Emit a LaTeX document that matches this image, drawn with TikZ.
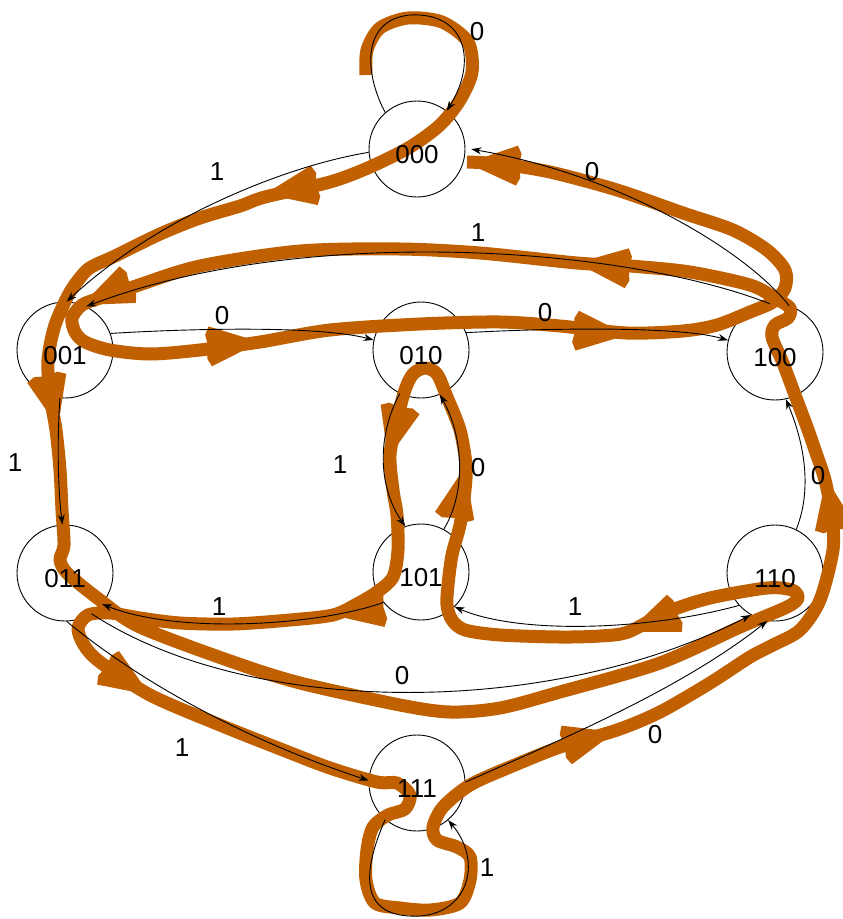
\documentclass[tikz,border=0pt]{standalone}
\usepackage{fontspec}
\setmainfont{Liberation Sans}
\usetikzlibrary{arrows.meta}
\definecolor{orng}{RGB}{192,96,0}
\newcommand{\tourarrow}[3]{\fill[orng,shift={(#1,-#2)},rotate=#3] (0,0) -- (-50,20) -- (-54,12) -- (-52,0) -- (-54,-12) -- (-50,-20) -- cycle;}
\begin{document}
\begin{tikzpicture}[x=1pt,y=1pt,
  state/.style={circle,draw,line width=0.9pt,minimum size=96pt,inner sep=0pt},
  nlabel/.style={font=\fontsize{26}{30}\selectfont,inner sep=0pt,yshift=-6pt},
  elabel/.style={font=\fontsize{26}{30}\selectfont,inner sep=0pt},
  edge/.style={line width=0.9pt,-{Stealth[length=10pt,width=7pt]}},
  tour/.style={line width=13pt,draw=orng,line join=round},
]
\useasboundingbox (0,0) rectangle (843,-919);

% states
\node[state] (n000) at (417,-149) {};
\node[state] (n001) at (65,-350) {};
\node[state] (n010) at (421,-350) {};
\node[state] (n100) at (775,-352) {};
\node[state] (n011) at (65,-573) {};
\node[state] (n101) at (421,-572) {};
\node[state] (n110) at (775,-573) {};
\node[state] (n111) at (417,-783) {};

% Eulerian tour (thick)
\draw[tour] plot[smooth,tension=0.5] coordinates {
 (366,-75) (367,-50) (380,-28) (408,-18) (442,-22) (468,-42) (472,-72)
 (460,-100) (440,-125) (410,-147) (370,-167) (330,-182) (265,-197) (240,-206)
 (200,-218) (160,-234) (115,-256) (95,-265) (85,-272) (70,-292) (55,-325)
 (48,-360) (50,-395) (56,-430) (60,-470) (62,-510) (64,-545) (60,-560)
 (68,-574) (100,-600) (140,-627) (233,-662) (300,-683) (400,-705) (450,-712)
 (500,-708) (560,-692) (660,-663) (740,-627) (787,-607) (798,-598) (792,-590)
 (767,-588) (710,-598) (667,-612) (628,-632) (600,-636) (560,-637) (500,-635)
 (465,-630) (452,-620) (447,-605) (448,-585) (452,-555) (460,-525) (465,-490)
 (466,-465) (460,-430) (447,-397) (437,-374) (425,-368) (413,-374) (405,-390)
 (397,-420) (390,-455) (393,-490) (397,-515) (398,-550) (393,-577) (377,-592)
 (357,-604) (333,-615) (290,-620) (233,-624) (180,-623) (140,-618) (110,-613)
 (88,-615) (78,-628) (84,-645) (100,-662) (150,-695) (220,-725) (283,-750)
 (330,-768) (377,-782) (397,-783) (410,-795) (405,-809) (388,-815) (373,-827)
 (367,-850) (366,-880) (375,-903) (400,-908) (430,-910) (460,-903) (470,-880)
 (470,-857) (457,-847) (437,-840) (433,-827) (443,-807) (470,-785) (510,-767)
 (560,-747) (617,-730) (660,-712) (710,-683) (750,-657) (773,-645) (800,-630)
 (820,-600) (833,-550) (832,-517) (825,-480) (815,-450) (807,-427) (795,-395)
 (783,-363) (772,-337) (775,-325) (788,-318) (790,-308) (775,-298) (750,-285)
 (690,-272) (630,-266) (577,-263) (480,-253) (400,-249) (300,-251) (200,-266)
 (133,-287) (100,-298) (82,-305) (72,-318) (75,-332) (85,-342) (110,-350)
 (150,-354) (200,-350) (260,-342) (330,-330) (420,-324) (500,-322) (560,-326)
 (627,-333) (683,-331) (717,-325) (750,-312) (773,-302) (785,-288) (785,-270)
 (767,-250) (733,-230) (683,-213) (617,-190) (550,-172) (500,-164) (467,-162)
};
\tourarrow{265}{194}{190}
\tourarrow{82}{305}{204}
\tourarrow{58}{427}{283}
\tourarrow{260}{342}{5}
\tourarrow{627}{335}{-5}
\tourarrow{577}{263}{174}
\tourarrow{467}{163}{177}
\tourarrow{332}{615}{189}
\tourarrow{150}{695}{-33}
\tourarrow{615}{732}{15}
\tourarrow{628}{632}{202}
\tourarrow{826}{478}{100}
\tourarrow{465}{467}{78}
\tourarrow{388}{458}{256}

% transitions
\draw[edge] (n000.131) .. controls (365,-75) and (360,-20) .. (410,-15)
            .. controls (465,-12) and (478,-60) .. (n000.52);
\draw[edge] (n000.184) .. controls (290,-165) and (160,-215) .. (n001.88);
\draw[edge,shorten >=6pt] (n100.73) .. controls (745,-250) and (620,-175) .. (n000.1);
\draw[edge] (n100.96) .. controls (620,-245) and (300,-225) .. (n001.64);
\draw[edge] (n001.20) .. controls (200,-328) and (320,-326) .. (n010.168);
\draw[edge] (n010.21) .. controls (550,-328) and (680,-326) .. (n100.166);
\draw[edge] (n001.264) .. controls (57,-440) and (58,-490) .. (n011.93);
\draw[edge] (n010.244) .. controls (375,-440) and (380,-490) .. (n101.109);
\draw[edge] (n101.62) .. controls (465,-495) and (465,-440) .. (n010.293);
\draw[edge] (n110.64) .. controls (812,-490) and (805,-445) .. (n100.283);
\draw[edge] (n101.219) .. controls (320,-625) and (180,-635) .. (n011.320);
\draw[edge] (n110.222) .. controls (650,-630) and (520,-635) .. (n101.314);
\draw[edge] (n011.303) .. controls (250,-718) and (550,-718) .. (n110.240);
\draw[edge] (n011.272) .. controls (150,-690) and (260,-745) .. (n111.177);
\draw[edge] (n111.1) .. controls (560,-740) and (680,-690) .. (n110.261);
\draw[edge] (n111.229) .. controls (350,-900) and (380,-918) .. (420,-916)
            .. controls (470,-912) and (482,-860) .. (n111.310);

% state names
\node[nlabel] (t000) at (n000) {000};
\node[nlabel] (t001) at (n001) {001};
\node[nlabel] (t010) at (n010) {010};
\node[nlabel] (t100) at (n100) {100};
\node[nlabel] (t011) at (n011) {011};
\node[nlabel] (t101) at (n101) {101};
\node[nlabel] (t110) at (n110) {110};
\node[nlabel] (t111) at (n111) {111};

% edge labels
\node[elabel] (l1) at (477,-32) {0};
\node[elabel] (l2) at (217,-172) {1};
\node[elabel] (l3) at (592,-172) {0};
\node[elabel] (l4) at (478,-233) {1};
\node[elabel] (l5) at (222,-316) {0};
\node[elabel] (l6) at (545,-313) {0};
\node[elabel] (l7) at (15,-463) {1};
\node[elabel] (l8) at (340,-465) {1};
\node[elabel] (l9) at (478,-468) {0};
\node[elabel] (l10) at (818,-476) {0};
\node[elabel] (l11) at (219,-607) {1};
\node[elabel] (l12) at (575,-607) {1};
\node[elabel] (l13) at (402,-676) {0};
\node[elabel] (l14) at (182,-748) {1};
\node[elabel] (l15) at (655,-735) {0};
\node[elabel] (l16) at (487,-868) {1};
\end{tikzpicture}
\end{document}
